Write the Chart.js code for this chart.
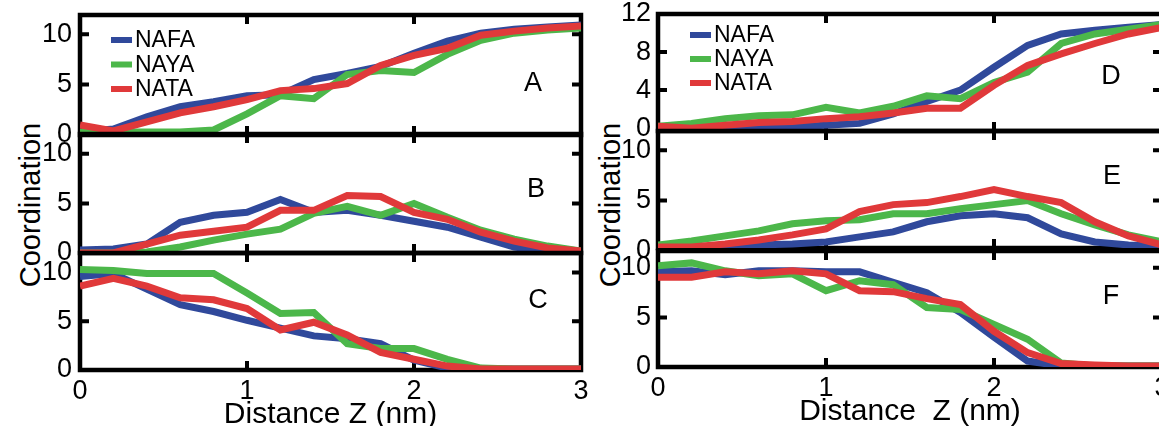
<!DOCTYPE html>
<html>
<head>
<meta charset="utf-8">
<script src="https://cdn.jsdelivr.net/npm/chart.js@4.4.0/dist/chart.umd.min.js"></script>
<style>
html, body { margin: 0; padding: 0; background: #fff; }
body { width: 1159px; height: 426px; position: relative; overflow: hidden; font-family: "Liberation Sans", Arial, sans-serif; }
canvas { position: absolute; }
.ylab { position: absolute; font-size: 29px; color: #000; white-space: nowrap; transform: translate(-50%, -50%) rotate(-90deg); }
</style>
</head>
<body>
<div class="ylab" style="left:30px;top:205px">Coordination</div>
<div class="ylab" style="left:610px;top:205px">Coordination</div>
<script>
// distance along z (nm), one value every 0.2 nm
const distance = [0, 0.2, 0.4, 0.6, 0.8, 1.0, 1.2, 1.4, 1.6, 1.8, 2.0, 2.2, 2.4, 2.6, 2.8, 3.0];
const seriesNames = ["NAFA", "NAYA", "NATA"];

// panel A
const nafaA = [0.3, 0.6, 1.8, 2.8, 3.3, 3.9, 4.0, 5.5, 6.1, 6.8, 8.1, 9.3, 10.1, 10.5, 10.7, 10.9];
const nayaA = [0.3, 0.3, 0.3, 0.3, 0.5, 2.1, 3.9, 3.6, 6.0, 6.4, 6.2, 8.0, 9.4, 10.1, 10.4, 10.6];
const nataA = [1.0, 0.4, 1.3, 2.2, 2.8, 3.5, 4.4, 4.6, 5.1, 6.9, 7.9, 8.6, 9.9, 10.3, 10.6, 10.8];
// panel B
const nafaB = [0.3, 0.4, 0.9, 3.1, 3.8, 4.1, 5.4, 4.1, 4.3, 3.8, 3.2, 2.6, 1.6, 0.6, 0.2, 0.0];
const nayaB = [0.0, 0.0, 0.1, 0.6, 1.3, 1.9, 2.4, 4.0, 4.7, 3.8, 5.0, 3.6, 2.3, 1.4, 0.7, 0.2];
const nataB = [0.0, 0.0, 0.9, 1.8, 2.2, 2.6, 4.3, 4.3, 5.8, 5.7, 4.1, 3.4, 2.1, 1.2, 0.5, 0.2];
// panel C
const nafaC = [9.6, 9.9, 8.3, 6.7, 6.0, 5.1, 4.3, 3.5, 3.2, 2.7, 1.0, 0.2, 0.1, 0.1, 0.1, 0.1];
const nayaC = [10.3, 10.2, 9.9, 9.9, 9.9, 7.9, 5.8, 5.9, 2.7, 2.2, 2.2, 1.1, 0.2, 0.1, 0.1, 0.1];
const nataC = [8.6, 9.4, 8.6, 7.4, 7.2, 6.3, 4.1, 4.9, 3.6, 1.8, 1.1, 0.4, 0.1, 0.1, 0.1, 0.1];
// panel D
const nafaD = [0.0, 0.0, 0.05, 0.1, 0.15, 0.3, 0.5, 1.5, 2.8, 4.0, 6.4, 8.7, 9.9, 10.3, 10.6, 10.9];
const nayaD = [0.2, 0.5, 1.0, 1.3, 1.4, 2.2, 1.6, 2.3, 3.4, 3.1, 4.8, 5.9, 8.9, 9.9, 10.4, 10.9];
const nataD = [0.2, 0.0, 0.3, 0.6, 0.7, 1.0, 1.2, 1.6, 2.1, 2.1, 4.5, 6.6, 7.8, 8.9, 9.9, 10.6];
// panel E
const nafaE = [0.4, 0.4, 0.4, 0.6, 0.7, 0.9, 1.4, 1.9, 2.9, 3.5, 3.7, 3.3, 1.7, 0.9, 0.6, 0.5];
const nayaE = [0.6, 1.0, 1.5, 2.0, 2.7, 3.0, 3.1, 3.7, 3.7, 4.2, 4.6, 5.0, 3.7, 2.6, 1.6, 0.9];
const nataE = [0.4, 0.4, 0.7, 1.1, 1.6, 2.2, 3.9, 4.6, 4.8, 5.4, 6.1, 5.4, 4.8, 2.9, 1.5, 0.6];
// panel F
const nafaF = [9.6, 9.7, 9.3, 9.7, 9.7, 9.6, 9.6, 8.55, 7.5, 5.5, 3.0, 0.6, 0.1, 0.1, 0.1, 0.1];
const nayaF = [10.2, 10.5, 9.7, 9.2, 9.4, 7.7, 8.7, 8.3, 6.0, 5.8, 4.3, 2.8, 0.4, 0.1, 0.1, 0.1];
const nataF = [9.05, 9.05, 9.6, 9.4, 9.7, 9.4, 7.7, 7.6, 6.9, 6.3, 3.6, 1.45, 0.35, 0.2, 0.1, 0.1];

// tick labels
const xTicks = [0, 1, 2, 3];
const yTicks = [0, 5, 10];
const yTicksD = [0, 4, 8, 12];

const colors = ["#30499b", "#4cb74a", "#e0393a"];
const FONT = "'Liberation Sans', Arial, sans-serif";
Chart.defaults.font.family = FONT;
Chart.defaults.color = "#000";

const cols = [
  { left: 80, right: 581, axisW: 80, xTitle: "Distance Z (nm)", tickPad: 8 },
  { left: 658, right: 1162, axisW: 75, xTitle: "Distance  Z (nm)", tickPad: 7 }
];

const panels = [
  { letter: "A", col: 0, top: 15, bottom: 135, min: 0, max: 11.9, series: [nafaA, nayaA, nataA], ticks: yTicks, legend: { x: 31, y: 25, dy: 24.5 }, lx: 453, ly: 69 },
  { letter: "B", col: 0, top: 134, bottom: 253, min: 0, max: 12, series: [nafaB, nayaB, nataB], ticks: yTicks, lx: 456, ly: 56 },
  { letter: "C", col: 0, top: 253, bottom: 370, min: 0, max: 12, series: [nafaC, nayaC, nataC], ticks: yTicks, xlabels: true, lx: 458, ly: 48 },
  { letter: "D", col: 1, top: 14, bottom: 131, min: -0.3, max: 12, series: [nafaD, nayaD, nataD], ticks: yTicksD, legend: { x: 32, y: 21, dy: 24 }, lx: 453, ly: 63 },
  { letter: "E", col: 1, top: 131, bottom: 248, min: 0.3, max: 11.9, series: [nafaE, nayaE, nataE], ticks: yTicks, lx: 454, ly: 46 },
  { letter: "F", col: 1, top: 251, bottom: 367, min: 0, max: 11.7, series: [nafaF, nayaF, nataF], ticks: yTicks, xlabels: true, lx: 453, ly: 46 }
];

const PAD = 32, XAXIS_H = 63;

const framePlugin = {
  id: "frame",
  beforeDatasetsDraw(chart) {
    const { ctx, chartArea: { left, top, right, bottom }, scales: { x, y } } = chart;
    ctx.save();
    ctx.strokeStyle = "#000";
    ctx.lineWidth = 4.5;
    ctx.strokeRect(left, top, right - left, bottom - top);
    ctx.lineWidth = 4;
    ctx.beginPath();
    y.ticks.forEach(t => {
      const py = y.getPixelForValue(t.value);
      if (py < top + 4 || py > bottom - 4) return;
      ctx.moveTo(left, py); ctx.lineTo(left + 9, py);
      ctx.moveTo(right, py); ctx.lineTo(right - 9, py);
    });
    x.ticks.forEach(t => {
      const px = x.getPixelForValue(t.value);
      if (px < left + 4 || px > right - 4) return;
      ctx.moveTo(px, top); ctx.lineTo(px, top + 9);
      ctx.moveTo(px, bottom); ctx.lineTo(px, bottom - 9);
    });
    ctx.stroke();
    ctx.restore();
  },
  afterDraw(chart, args, opts) {
    const { ctx, chartArea: { left, top } } = chart;
    ctx.save();
    ctx.fillStyle = "#000";
    ctx.textBaseline = "middle";
    ctx.textAlign = "center";
    ctx.font = "27px " + FONT;
    ctx.fillText(opts.letter, left + opts.lx, top + opts.ly);
    if (opts.legend) {
      const lg = opts.legend;
      ctx.textAlign = "left";
      ctx.font = "23px " + FONT;
      chart.data.datasets.forEach((ds, i) => {
        const yy = top + lg.y + i * lg.dy;
        ctx.strokeStyle = ds.borderColor;
        ctx.lineWidth = 6;
        ctx.beginPath();
        ctx.moveTo(left + lg.x, yy);
        ctx.lineTo(left + lg.x + 21, yy);
        ctx.stroke();
        ctx.fillStyle = "#000";
        ctx.fillText(ds.label, left + lg.x + 24, yy + 1);
      });
    }
    ctx.restore();
  }
};

panels.forEach(p => {
  const c = cols[p.col];
  const cLeft = c.left - c.axisW;
  const cTop = p.top - PAD;
  const cW = c.right - cLeft + 15;
  const cH = p.xlabels ? (p.bottom + XAXIS_H - cTop) : (p.bottom + PAD - cTop);
  const canvas = document.createElement("canvas");
  canvas.width = cW; canvas.height = cH;
  canvas.style.left = cLeft + "px"; canvas.style.top = cTop + "px";
  canvas.style.width = cW + "px"; canvas.style.height = cH + "px";
  document.body.appendChild(canvas);

  new Chart(canvas, {
    type: "line",
    data: {
      datasets: p.series.map((vals, i) => ({
        label: seriesNames[i],
        data: distance.map((d, j) => ({ x: d, y: vals[j] })),
        borderColor: colors[i],
        backgroundColor: colors[i],
        borderWidth: 7,
        pointRadius: 0,
        tension: 0,
        fill: false,
        borderJoinStyle: "miter",
        order: 3 - i
      }))
    },
    options: {
      responsive: false,
      animation: false,
      devicePixelRatio: 1,
      layout: { padding: { left: 0, top: PAD, right: 15, bottom: p.xlabels ? 0 : PAD } },
      plugins: {
        legend: { display: false },
        tooltip: { enabled: false },
        frame: { letter: p.letter, lx: p.lx, ly: p.ly, legend: p.legend }
      },
      scales: {
        x: {
          type: "linear", min: 0, max: 3,
          display: !!p.xlabels,
          afterBuildTicks: s => { s.ticks = xTicks.map(v => ({ value: v })); },
          afterFit: s => { s.height = p.xlabels ? XAXIS_H : 0; },
          grid: { display: false, drawTicks: false },
          border: { display: false },
          ticks: { padding: 5, font: { size: 27 }, color: "#000", maxRotation: 0, autoSkip: false },
          title: { display: true, text: c.xTitle, font: { size: 30 }, color: "#000", padding: { top: 0, bottom: 0 } }
        },
        y: {
          type: "linear", min: p.min, max: p.max,
          afterBuildTicks: s => { s.ticks = p.ticks.map(v => ({ value: v })); },
          afterFit: s => { s.width = c.axisW; },
          grid: { display: false, drawTicks: false },
          border: { display: false },
          ticks: { padding: c.tickPad, font: { size: 27 }, color: "#000" }
        }
      }
    },
    plugins: [framePlugin]
  });
});
</script>
</body>
</html>
